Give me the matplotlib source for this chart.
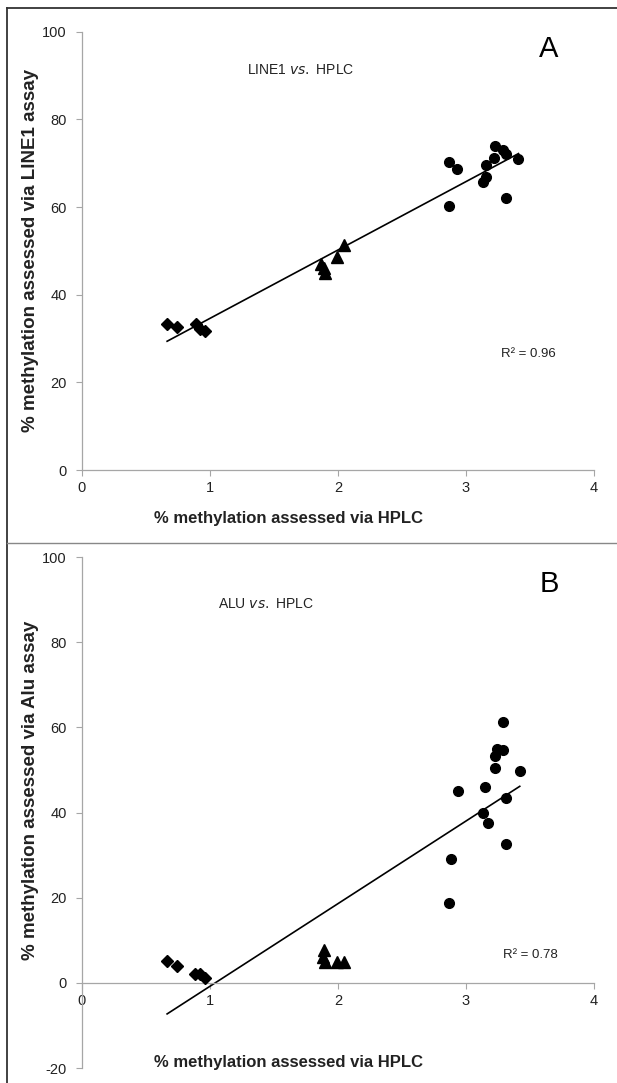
import numpy as np
import matplotlib
matplotlib.use("Agg")
import matplotlib.pyplot as plt
from matplotlib.lines import Line2D

plt.rcParams['font.family'] = ['Liberation Sans', 'DejaVu Sans']
plt.rcParams['axes.unicode_minus'] = False

# ---------------- data ----------------
# Panel A: LINE1 vs HPLC
a_diamond_x = [0.665, 0.74, 0.89, 0.92, 0.96]
a_diamond_y = [33.2, 32.6, 33.3, 32.2, 31.6]
a_triangle_x = [1.87, 1.89, 1.90, 1.99, 2.05]
a_triangle_y = [47.0, 46.0, 45.0, 48.5, 51.3]
a_circle_x = [2.87, 2.93, 3.16, 3.23, 3.22, 3.29, 3.31, 3.41, 3.16, 3.13, 3.31, 2.87]
a_circle_y = [70.2, 68.6, 69.5, 74.0, 71.1, 72.9, 72.0, 70.9, 66.8, 65.7, 62.0, 60.2]
a_fit = (15.6, 19.0)   # slope, intercept of trendline
a_r2 = "R² = 0.96"

# Panel B: ALU vs HPLC
b_diamond_x = [0.665, 0.74, 0.88, 0.92, 0.96]
b_diamond_y = [5.2, 4.0, 2.1, 2.0, 1.2]
b_triangle_x = [1.89, 1.88, 1.90, 1.99, 2.05]
b_triangle_y = [7.6, 6.0, 5.0, 4.9, 4.8]
b_circle_x = [3.29, 3.24, 3.29, 3.23, 3.23, 3.42, 2.94, 3.15, 3.31, 3.13, 3.17, 3.31, 2.88, 2.87]
b_circle_y = [61.3, 54.8, 54.7, 53.3, 50.4, 49.8, 45.0, 46.0, 43.5, 39.8, 37.5, 32.5, 29.0, 18.8]
b_fit = (19.4, -20.2)
b_r2 = "R² = 0.78"

x_ticks = [0, 1, 2, 3, 4]
a_y_ticks = [0, 20, 40, 60, 80, 100]
b_y_ticks = [-20, 0, 20, 40, 60, 80, 100]

W, H = 617, 1083
fig = plt.figure(figsize=(W / 100, H / 100), dpi=100)


def fx(px):
    return px / W


def fy(py):
    return 1 - py / H


gray = '#a6a6a6'


def style_axes(ax, yticks, ylim):
    ax.set_xlim(0, 4)
    ax.set_ylim(*ylim)
    ax.set_xticks(x_ticks)
    ax.set_yticks(yticks)
    for s in ['top', 'right']:
        ax.spines[s].set_visible(False)
    for s in ['left', 'bottom']:
        ax.spines[s].set_color(gray)
        ax.spines[s].set_linewidth(0.9)
    ax.spines['bottom'].set_position(('data', 0))
    ax.tick_params(axis='both', direction='out', length=4, width=0.8, color=gray,
                   labelsize=10.5, labelcolor='#222222')
    ax.tick_params(axis='x', pad=4)
    ax.tick_params(axis='y', pad=7)
    ax.patch.set_alpha(0)


def draw_points(ax, dx, dy, tx, ty, cx, cy, fit):
    ax.plot(dx, dy, 'D', color='black', ms=6.3, mec='black', clip_on=False, zorder=3)
    ax.plot(tx, ty, '^', color='black', ms=8, mec='black', clip_on=False, zorder=3)
    ax.plot(cx, cy, 'o', color='black', ms=7, mec='black', clip_on=False, zorder=3)
    allx = np.array(dx + tx + cx)
    xs = np.array([allx.min(), allx.max()])
    ax.plot(xs, fit[0] * xs + fit[1], color='black', lw=1.2, clip_on=False, zorder=2)


# Panel A axes: x 0->82px, 4->594px ; y 100->31.7px, 0->470px
axA = fig.add_axes([fx(82), fy(470), fx(594) - fx(82), fy(31.7) - fy(470)])
style_axes(axA, a_y_ticks, (0, 100))
draw_points(axA, a_diamond_x, a_diamond_y, a_triangle_x, a_triangle_y,
            a_circle_x, a_circle_y, a_fit)

# Panel B axes: y 100->557px, -20->1068px
axB = fig.add_axes([fx(82), fy(1068), fx(594) - fx(82), fy(557) - fy(1068)])
style_axes(axB, b_y_ticks, (-20, 100))
draw_points(axB, b_diamond_x, b_diamond_y, b_triangle_x, b_triangle_y,
            b_circle_x, b_circle_y, b_fit)

# Titles inside plots
fig.text(fx(301), fy(70), r'LINE1 $\it{vs.}$ HPLC', ha='center', va='center', fontsize=10, color='#222222')
fig.text(fx(266), fy(604), r'ALU $\it{vs.}$ HPLC', ha='center', va='center', fontsize=10, color='#222222')

# R^2 labels
fig.text(fx(528), fy(354), a_r2, ha='center', va='center', fontsize=9.5, color='#222222')
fig.text(fx(530), fy(955), b_r2, ha='center', va='center', fontsize=9.5, color='#222222')

# Panel letters
fig.text(fx(549), fy(49), 'A', ha='center', va='center', fontsize=21, color='black')
fig.text(fx(549), fy(584), 'B', ha='center', va='center', fontsize=21, color='black')

# Axis labels
fig.text(fx(289), fy(519), '% methylation assessed via HPLC', ha='center', va='center',
         fontsize=12, fontweight='bold', color='#222222')
fig.text(fx(289), fy(1062), '% methylation assessed via HPLC', ha='center', va='center',
         fontsize=12, fontweight='bold', color='#222222')
fig.text(fx(31), fy(251), '% methylation assessed via LINE1 assay', ha='center', va='center',
         rotation=90, fontsize=13.5, fontweight='bold', color='#222222')
fig.text(fx(31), fy(790), '% methylation assessed via Alu assay', ha='center', va='center',
         rotation=90, fontsize=13.5, fontweight='bold', color='#222222')

# Frame lines
fig.add_artist(Line2D([fx(7), fx(617)], [fy(8), fy(8)], color='#333333', lw=1.3))
fig.add_artist(Line2D([fx(7), fx(7)], [fy(8), fy(1083)], color='#333333', lw=1.3))
fig.add_artist(Line2D([fx(7), fx(617)], [fy(543), fy(543)], color='#888888', lw=1.0))

fig.savefig('out.png', dpi=100)
